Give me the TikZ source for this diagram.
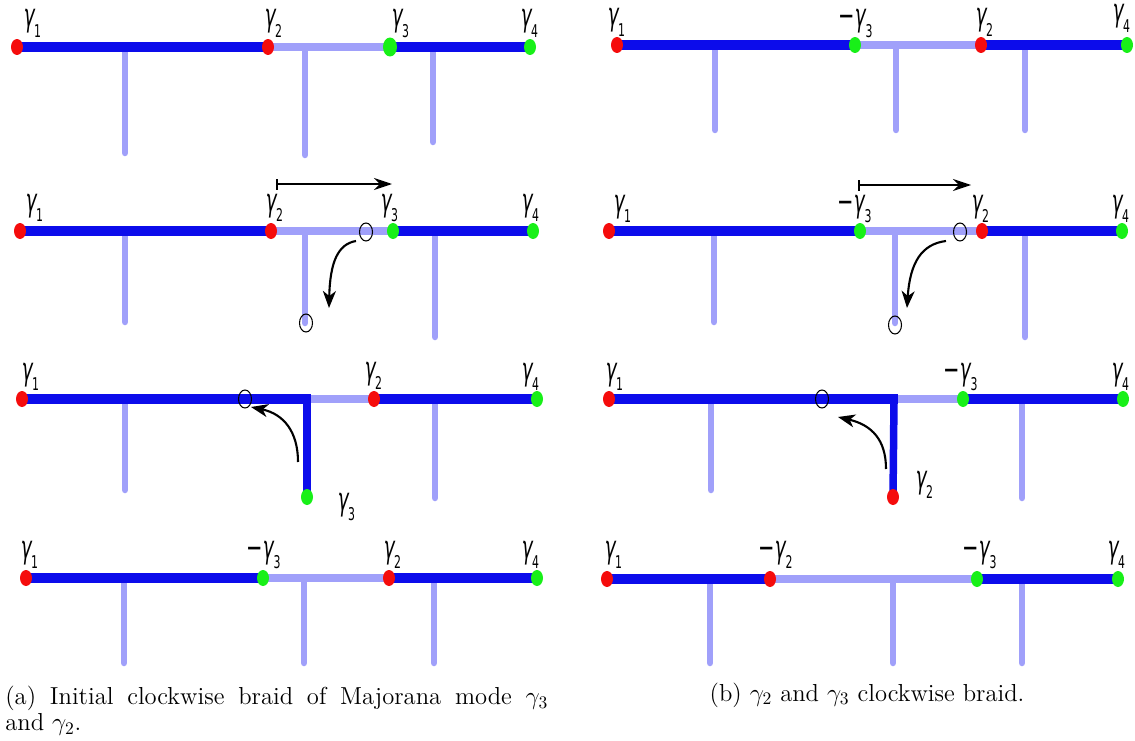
\documentclass[tikz,border=0pt]{standalone}
\usepackage{fontspec}
\newfontfamily\lblfont[FakeStretch=0.58,FakeSlant=0.12]{DejaVu Sans}
\newfontfamily\lbldig[FakeStretch=0.62]{DejaVu Sans}
\usetikzlibrary{arrows.meta,shapes.geometric}
\pgfdeclarelayer{bg}
\pgfsetlayers{bg,main}
\definecolor{myblue}{RGB}{12,12,235}
\definecolor{mylight}{RGB}{160,160,250}
\definecolor{myred}{RGB}{245,12,12}
\definecolor{mygreen}{RGB}{24,240,24}
\newcommand\glf{\lblfont\fontsize{18}{18}\selectfont}
\newcommand\gsb[1]{γ\raisebox{-5.7pt}{\lbldig\fontsize{10}{10}\selectfont #1}}
\newcommand\mgsb[1]{{\lbldig −}\gsb{#1}}
\tikzset{
  bl/.style={line width=0.2cm, draw=myblue},
  blv/.style={line width=0.15cm, draw=myblue},
  lt/.style={line width=0.16cm, draw=mylight},
  stem/.style={line width=0.13cm, draw=mylight, line cap=round},
  rdot/.style={ellipse, fill=myred, minimum width=0.24cm, minimum height=0.32cm, inner sep=0},
  gdot/.style={ellipse, fill=mygreen, minimum width=0.24cm, minimum height=0.32cm, inner sep=0},
  ring/.style={ellipse, draw, line width=0.6pt, minimum width=0.26cm, minimum height=0.36cm, inner sep=0},
  mv/.style={line width=1.2pt, -{Stealth[length=0.34cm,width=0.26cm,inset=0.1cm]}},
  hv/.style={line width=1pt, {Bar[width=0.22cm]}-{Stealth[length=0.36cm,width=0.24cm,inset=0.12cm]}},
  lbl/.style={inner sep=0, anchor=base west, font=\glf},
}
\begin{document}
\begin{tikzpicture}[x=0.02cm,y=-0.02cm]
\useasboundingbox (0,0) rectangle (1135,740);

% ================= Panel (a) row 1 =================
\node[rdot] (a1p1) at (17,47) {};
\node[rdot] (a1p2) at (268,47) {};
\node[gdot, minimum width=0.28cm, minimum height=0.38cm] (a1p3) at (390,47) {};
\node[gdot] (a1p4) at (530,47) {};
\coordinate (a1s1t) at (125,47); \coordinate (a1s1b) at (125,153);
\coordinate (a1s2t) at (305,47); \coordinate (a1s2b) at (305,155);
\coordinate (a1s3t) at (433,47); \coordinate (a1s3b) at (433,142);
\begin{pgfonlayer}{bg}
\draw[lt] (a1p2.center) -- (a1p3.center);
\draw[stem] (a1s1t) -- (a1s1b);
\draw[stem] (a1s2t) -- (a1s2b);
\draw[stem] (a1s3t) -- (a1s3b);
\draw[bl] (a1p1.center) -- (a1p2.center);
\draw[bl] (a1p3.center) -- (a1p4.center);
\end{pgfonlayer}
\node[lbl] (a1l1) at (23,27) {\gsb{1}};
\node[lbl] (a1l2) at (264,27) {\gsb{2}};
\node[lbl] (a1l3) at (391,27) {\gsb{3}};
\node[lbl] (a1l4) at (520,27) {\gsb{4}};

% ================= Panel (a) row 2 =================
\node[rdot] (a2p1) at (20,231) {};
\node[rdot] (a2p2) at (271,231) {};
\node[gdot] (a2p3) at (393,231) {};
\node[gdot] (a2p4) at (533,231) {};
\coordinate (a2s1t) at (125,231); \coordinate (a2s1b) at (125,322);
\coordinate (a2s2t) at (305,231); \coordinate (a2s2b) at (305,323);
\coordinate (a2s3t) at (435,231); \coordinate (a2s3b) at (435,337);
\begin{pgfonlayer}{bg}
\draw[lt] (a2p2.center) -- (a2p3.center);
\draw[stem] (a2s1t) -- (a2s1b);
\draw[stem] (a2s2t) -- (a2s2b);
\draw[stem] (a2s3t) -- (a2s3b);
\draw[bl] (a2p1.center) -- (a2p2.center);
\draw[bl] (a2p3.center) -- (a2p4.center);
\end{pgfonlayer}
\node[lbl] (a2l1) at (25,211) {\gsb{1}};
\node[lbl] (a2l2) at (265,211) {\gsb{2}};
\node[lbl] (a2l3) at (380,211) {\gsb{3}};
\node[lbl] (a2l4) at (521,211) {\gsb{4}};
\coordinate (a2bs) at (276,184); \coordinate (a2be) at (392,184);
\draw[hv] (a2bs) -- (a2be);
\node[ring] (a2r1) at (366,232) {};
\node[ring] (a2r2) at (306,323) {};
\coordinate (a2cs) at (356,241); \coordinate (a2ce) at (329,308);
\draw[mv] (a2cs) .. controls (338,244) and (330,262) .. (a2ce);

% ================= Panel (a) row 3 =================
\node[rdot] (a3p1) at (22,399) {};
\node[rdot] (a3p2) at (374,399) {};
\node[gdot] (a3p4) at (537,399) {};
\node[gdot] (a3v) at (307,497) {};
\coordinate (a3c) at (307,399); \coordinate (a3ce) at (311,399);
\coordinate (a3s1t) at (125,399); \coordinate (a3s1b) at (125,490);
\coordinate (a3s3t) at (435,399); \coordinate (a3s3b) at (435,498);
\begin{pgfonlayer}{bg}
\draw[lt] (a3c) -- (a3p2.center);
\draw[stem] (a3s1t) -- (a3s1b);
\draw[stem] (a3s3t) -- (a3s3b);
\draw[bl] (a3p1.center) -- (a3ce);
\draw[blv] (a3c) -- (a3v.center);
\draw[bl] (a3p2.center) -- (a3p4.center);
\end{pgfonlayer}
\node[lbl] (a3l1) at (21,380) {\gsb{1}};
\node[lbl] (a3l2) at (364,379) {\gsb{2}};
\node[lbl] (a3l4) at (521,380) {\gsb{4}};
\node[lbl] (a3l3) at (337,510) {\gsb{3}};
\node[ring] (a3r1) at (245,399) {};
\coordinate (a3cs) at (298,462); \coordinate (a3ce2) at (251,407);
\draw[mv] (a3cs) .. controls (298,432) and (284,414) .. (a3ce2);

% ================= Panel (a) row 4 =================
\node[rdot] (a4p1) at (26,578) {};
\node[gdot] (a4p2) at (263,578) {};
\node[rdot] (a4p3) at (389,578) {};
\node[gdot] (a4p4) at (537,578) {};
\coordinate (a4s1t) at (124,578); \coordinate (a4s1b) at (124,663);
\coordinate (a4s2t) at (304,578); \coordinate (a4s2b) at (304,663);
\coordinate (a4s3t) at (434,578); \coordinate (a4s3b) at (434,663);
\begin{pgfonlayer}{bg}
\draw[lt] (a4p2.center) -- (a4p3.center);
\draw[stem] (a4s1t) -- (a4s1b);
\draw[stem] (a4s2t) -- (a4s2b);
\draw[stem] (a4s3t) -- (a4s3b);
\draw[bl] (a4p1.center) -- (a4p2.center);
\draw[bl] (a4p3.center) -- (a4p4.center);
\end{pgfonlayer}
\node[lbl] (a4l1) at (20,558) {\gsb{1}};
\node[lbl] (a4l2) at (246,558) {\mgsb{3}};
\node[lbl] (a4l3) at (383,558) {\gsb{2}};
\node[lbl] (a4l4) at (521,558) {\gsb{4}};

% ================= Panel (b) row 1 =================
\node[rdot] (b1p1) at (617,45) {};
\node[gdot] (b1p2) at (855,45) {};
\node[rdot] (b1p3) at (981,45) {};
\node[gdot] (b1p4) at (1127,45) {};
\coordinate (b1s1t) at (715,45); \coordinate (b1s1b) at (715,130);
\coordinate (b1s2t) at (896,45); \coordinate (b1s2b) at (896,130);
\coordinate (b1s3t) at (1025,45); \coordinate (b1s3b) at (1025,130);
\begin{pgfonlayer}{bg}
\draw[lt] (b1p2.center) -- (b1p3.center);
\draw[stem] (b1s1t) -- (b1s1b);
\draw[stem] (b1s2t) -- (b1s2b);
\draw[stem] (b1s3t) -- (b1s3b);
\draw[bl] (b1p1.center) -- (b1p2.center);
\draw[bl] (b1p3.center) -- (b1p4.center);
\end{pgfonlayer}
\node[lbl] (b1l1) at (607,26) {\gsb{1}};
\node[lbl] (b1l2) at (838,27) {\mgsb{3}};
\node[lbl] (b1l3) at (975,26) {\gsb{2}};
\node[lbl] (b1l4) at (1112,22) {\gsb{4}};

% ================= Panel (b) row 2 =================
\node[rdot] (b2p1) at (609,231) {};
\node[gdot] (b2p2) at (860,231) {};
\node[rdot] (b2p3) at (982,231) {};
\node[gdot] (b2p4) at (1122,231) {};
\coordinate (b2s1t) at (714,231); \coordinate (b2s1b) at (714,322);
\coordinate (b2s2t) at (895,231); \coordinate (b2s2b) at (895,323);
\coordinate (b2s3t) at (1025,231); \coordinate (b2s3b) at (1025,337);
\begin{pgfonlayer}{bg}
\draw[lt] (b2p2.center) -- (b2p3.center);
\draw[stem] (b2s1t) -- (b2s1b);
\draw[stem] (b2s2t) -- (b2s2b);
\draw[stem] (b2s3t) -- (b2s3b);
\draw[bl] (b2p1.center) -- (b2p2.center);
\draw[bl] (b2p3.center) -- (b2p4.center);
\end{pgfonlayer}
\node[lbl] (b2l1) at (613,212) {\gsb{1}};
\node[lbl] (b2l2) at (837,212) {\mgsb{3}};
\node[lbl] (b2l3) at (971,212) {\gsb{2}};
\node[lbl] (b2l4) at (1111,212) {\gsb{4}};
\coordinate (b2bs) at (858,185); \coordinate (b2be) at (971,185);
\draw[hv] (b2bs) -- (b2be);
\node[ring] (b2r1) at (960,232) {};
\node[ring] (b2r2) at (895,325) {};
\coordinate (b2cs) at (946,241); \coordinate (b2ce) at (907,308);
\draw[mv] (b2cs) .. controls (922,244) and (910,262) .. (b2ce);

% ================= Panel (b) row 3 =================
\node[rdot] (b3p1) at (609,399) {};
\node[gdot] (b3p3) at (963,399) {};
\node[gdot] (b3p4) at (1123,399) {};
\node[rdot] (b3v) at (893,497) {};
\coordinate (b3c) at (894,399); \coordinate (b3ce) at (898,399);
\coordinate (b3s1t) at (711,399); \coordinate (b3s1b) at (711,490);
\coordinate (b3s3t) at (1022,399); \coordinate (b3s3b) at (1022,498);
\begin{pgfonlayer}{bg}
\draw[lt] (b3c) -- (b3p3.center);
\draw[stem] (b3s1t) -- (b3s1b);
\draw[stem] (b3s3t) -- (b3s3b);
\draw[bl] (b3p1.center) -- (b3ce);
\draw[blv] (b3c) -- (b3v.center);
\draw[bl] (b3p3.center) -- (b3p4.center);
\end{pgfonlayer}
\node[lbl] (b3l1) at (605,380) {\gsb{1}};
\node[lbl] (b3l2) at (943,380) {\mgsb{3}};
\node[lbl] (b3l4) at (1111,380) {\gsb{4}};
\node[lbl] (b3l3) at (915,488) {\gsb{2}};
\node[ring] (b3r1) at (822,399) {};
\coordinate (b3cs) at (886,469); \coordinate (b3ce2) at (838,417);
\draw[mv] (b3cs) .. controls (886,440) and (872,425) .. (b3ce2);

% ================= Panel (b) row 4 =================
\node[rdot] (b4p1) at (607,579) {};
\node[rdot] (b4p2) at (770,579) {};
\node[gdot] (b4p3) at (977,579) {};
\node[gdot] (b4p4) at (1118,579) {};
\coordinate (b4s1t) at (710,579); \coordinate (b4s1b) at (710,663);
\coordinate (b4s2t) at (893,579); \coordinate (b4s2b) at (893,663);
\coordinate (b4s3t) at (1022,579); \coordinate (b4s3b) at (1022,663);
\begin{pgfonlayer}{bg}
\draw[lt] (b4p2.center) -- (b4p3.center);
\draw[stem] (b4s1t) -- (b4s1b);
\draw[stem] (b4s2t) -- (b4s2b);
\draw[stem] (b4s3t) -- (b4s3b);
\draw[bl] (b4p1.center) -- (b4p2.center);
\draw[bl] (b4p3.center) -- (b4p4.center);
\end{pgfonlayer}
\node[lbl] (b4l1) at (604,558) {\gsb{1}};
\node[lbl] (b4l2) at (758,558) {\mgsb{2}};
\node[lbl] (b4l3) at (962,558) {\mgsb{3}};
\node[lbl] (b4l4) at (1107,558) {\gsb{4}};

% ================= Captions =================
\node[anchor=north west, inner sep=0, text width=10.86cm, align=justify,
      font=\fontsize{14}{14.7}\selectfont] (capa) at (5,686)
  {(a) Initial clockwise braid of Majorana mode $\gamma_3$\linebreak and $\gamma_2$.};
\node[anchor=base, inner sep=0, font=\fontsize{14}{14.7}\selectfont] (capb) at (867,701)
  {(b) $\gamma_2$ and $\gamma_3$ clockwise braid.};
\end{tikzpicture}
\end{document}
